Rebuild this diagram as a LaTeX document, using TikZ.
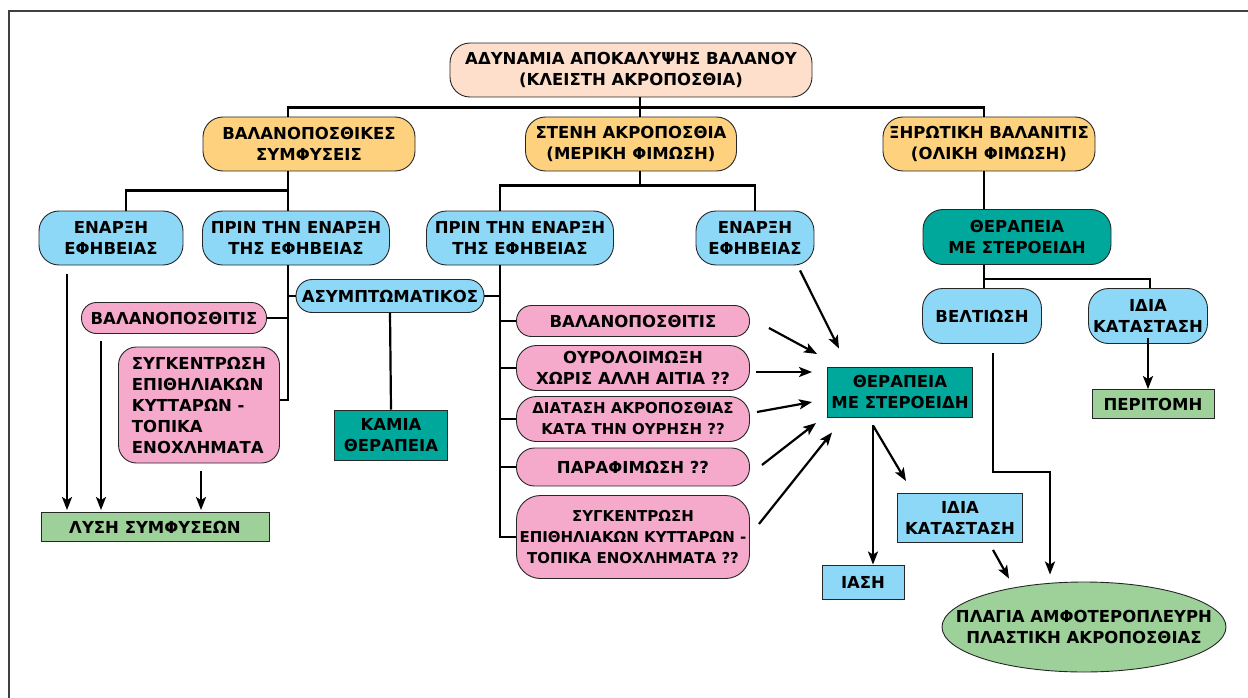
\documentclass[tikz,border=0pt]{standalone}
\usepackage{fontspec}
\setmainfont{DejaVu Sans}
\usetikzlibrary{arrows.meta, shapes.geometric}
\definecolor{rodakino}{HTML}{FDDFCB}
\definecolor{portokali}{HTML}{FDD17D}
\definecolor{galazio}{HTML}{8DD7F7}
\definecolor{roz}{HTML}{F5AACC}
\definecolor{petrol}{HTML}{00A89C}
\definecolor{prasino}{HTML}{9ED19A}
\tikzset{
  every node/.style={font=\fontsize{16.5}{21}\selectfont\bfseries, text=black, align=center, inner sep=2pt},
  stenos/.style={font=\fontsize{15}{21}\selectfont\bfseries, inner xsep=0pt},
  kouti/.style={draw=black!85, line width=0.9pt, rounded corners=#1, minimum height=54},
  kouti/.default=20,
  riza/.style={kouti, fill=rodakino},
  aitia/.style={kouti, fill=portokali},
  fasi/.style={kouti, fill=galazio},
  therap/.style={kouti, fill=petrol},
  klinik/.style={kouti=#1, fill=roz},
  klinik/.default=15,
  orthog/.style={draw=black!85, line width=0.9pt, minimum height=29},
  apotel/.style={orthog, fill=prasino},
  syndesi/.style={line width=2.2pt, black},
  velos/.style={-{Stealth[length=13pt, width=10pt, inset=3pt]}, line width=2.2pt, black},
  plaisio/.style={draw=black!75, line width=1.6pt},
}
\begin{document}
\begin{tikzpicture}[x=1pt, y=-1pt]
  \useasboundingbox (0,0) rectangle (1248,698);
  \draw[plaisio] (9,698) |- (1248,11);

  % kentriko
  \node[riza, minimum width=362] (top) at (631,70) {ΑΔΥΝΑΜΙΑ ΑΠΟΚΑΛΥΨΗΣ ΒΑΛΑΝΟΥ\\(ΚΛΕΙΣΤΗ ΑΚΡΟΠΟΣΘΙΑ)};
  \node[aitia, minimum width=212] (sym) at (309,144) {ΒΑΛΑΝΟΠΟΣΘΙΚΕΣ\\ΣΥΜΦΥΣΕΙΣ};
  \node[aitia, minimum width=211] (sten) at (631,144) {ΣΤΕΝΗ ΑΚΡΟΠΟΣΘΙΑ\\(ΜΕΡΙΚΗ ΦΙΜΩΣΗ)};
  \node[aitia, minimum width=212] (xir) at (989,144) {ΞΗΡΩΤΙΚΗ ΒΑΛΑΝΙΤΙΣ\\(ΟΛΙΚΗ ΦΙΜΩΣΗ)};

  % aristera
  \node[fasi, minimum width=144] (enl) at (111,238) {ΕΝΑΡΞΗ\\ΕΦΗΒΕΙΑΣ};
  \node[fasi, minimum width=187] (prl) at (296,238) {ΠΡΙΝ ΤΗΝ ΕΝΑΡΞΗ\\ΤΗΣ ΕΦΗΒΕΙΑΣ};
  \node[klinik, minimum width=185, minimum height=31] (pbl) at (174,318) {ΒΑΛΑΝΟΠΟΣΘΙΤΙΣ};
  \node[klinik=18, minimum width=161, minimum height=116, align=left] (psyl) at (199,405) {ΣΥΓΚΕΝΤΡΩΣΗ\\ΕΠΙΘΗΛΙΑΚΩΝ\\ΚΥΤΤΑΡΩΝ -\\ΤΟΠΙΚΑ\\ΕΝΟΧΛΗΜΑΤΑ};
  \node[apotel, minimum width=228] (lysi) at (155,527) {ΛΥΣΗ ΣΥΜΦΥΣΕΩΝ};
  \node[fasi, kouti=16, minimum width=188, minimum height=33] (asym) at (390,296) {ΑΣΥΜΠΤΩΜΑΤΙΚΟΣ};
  \node[orthog, fill=petrol, minimum width=113, minimum height=50] (kamia) at (391,435) {ΚΑΜΙΑ\\ΘΕΡΑΠΕΙΑ};

  % mesi
  \node[fasi, minimum width=187] (prm) at (520,238) {ΠΡΙΝ ΤΗΝ ΕΝΑΡΞΗ\\ΤΗΣ ΕΦΗΒΕΙΑΣ};
  \node[fasi, minimum width=118] (enm) at (755,238) {ΕΝΑΡΞΗ\\ΕΦΗΒΕΙΑΣ};
  \node[klinik, minimum width=233, minimum height=31] (pb1) at (633,321) {ΒΑΛΑΝΟΠΟΣΘΙΤΙΣ};
  \node[klinik=20, minimum width=233, minimum height=45] (pb2) at (633,368) {ΟΥΡΟΛΟΙΜΩΞΗ\\ΧΩΡΙΣ ΑΛΛΗ ΑΙΤΙΑ ??};
  \node[klinik=20, stenos, minimum width=233, minimum height=45] (pb3) at (633,419) {ΔΙΑΤΑΣΗ ΑΚΡΟΠΟΣΘΙΑΣ\\ΚΑΤΑ ΤΗΝ ΟΥΡΗΣΗ ??};
  \node[klinik=18, minimum width=233, minimum height=38] (pb4) at (633,467) {ΠΑΡΑΦΙΜΩΣΗ ??};
  \node[klinik=24, stenos, minimum width=233, minimum height=83] (pb5) at (633,537) {ΣΥΓΚΕΝΤΡΩΣΗ\\ΕΠΙΘΗΛΙΑΚΩΝ ΚΥΤΤΑΡΩΝ -\\ΤΟΠΙΚΑ ΕΝΟΧΛΗΜΑΤΑ ??};
  \node[orthog, fill=petrol, minimum width=145, minimum height=50] (therm) at (900,392) {ΘΕΡΑΠΕΙΑ\\ΜΕ ΣΤΕΡΟΕΙΔΗ};
  \node[orthog, fill=galazio, minimum width=82, minimum height=34] (iasi) at (863,582) {ΙΑΣΗ};
  \node[orthog, fill=galazio, minimum width=125, minimum height=49] (idm) at (960,518) {ΙΔΙΑ\\ΚΑΤΑΣΤΑΣΗ};

  % dexia
  \node[therap, minimum width=188, minimum height=55] (therr) at (1017,237) {ΘΕΡΑΠΕΙΑ\\ΜΕ ΣΤΕΡΟΕΙΔΗ};
  \node[fasi, minimum width=119, minimum height=55] (velt) at (982,316) {ΒΕΛΤΙΩΣΗ};
  \node[fasi, minimum width=119, minimum height=55] (idr) at (1148,316) {ΙΔΙΑ\\ΚΑΤΑΣΤΑΣΗ};
  \node[apotel, minimum width=122] (perit) at (1153,404) {ΠΕΡΙΤΟΜΗ};
  \node[ellipse, draw=black!85, line width=0.9pt, fill=prasino, minimum width=284, minimum height=90, inner xsep=-36pt, inner ysep=0pt] (plag) at (1084,627) {ΠΛΑΓΙΑ ΑΜΦΟΤΕΡΟΠΛΕΥΡΗ\\ΠΛΑΣΤΙΚΗ ΑΚΡΟΠΟΣΘΙΑΣ};

  % dentro
  \draw[syndesi] ([xshift=9]top.south) -- ([xshift=9]sten.north);
  \draw[syndesi] ([xshift=-21]sym.north) -- ++(0,-9) -| ([xshift=-5]xir.north);
  \draw[syndesi] ([xshift=-21]sym.south) -- ([xshift=-8]prl.north);
  \draw[syndesi] ([xshift=-21]sym.south) ++(0,19) -| ([xshift=15]enl.north);
  \draw[syndesi] ([xshift=9]sten.south) -- ++(0,15);
  \draw[syndesi] ([xshift=-20]prm.north) -- ++(0,-25) -| (enm.north);
  \draw[syndesi] ([xshift=-5]xir.south) -- ([xshift=-33]therr.north);
  \draw[syndesi] ([xshift=-33]therr.south) -- ([xshift=2]velt.north);
  \draw[syndesi] ([xshift=-33]therr.south) ++(0,14) -| ([xshift=2]idr.north);

  \draw[syndesi] ([xshift=-8]prl.south) |- ([yshift=5]psyl.east);
  \draw[syndesi] (pbl.east) -| ([xshift=-8]prl.south);
  \draw[syndesi] (asym.west) -| ([xshift=-8]prl.south);
  \draw[syndesi] (asym.east) -| ([xshift=-20]prm.south);
  \draw[syndesi] (asym.south) -- (kamia.north);
  \draw[syndesi] ([xshift=-20]prm.south) |- (pb5.west);
  \foreach \n in {pb1,pb2,pb3,pb4}
    \draw[syndesi] (\n.west) -| ([xshift=-20]prm.south);

  % velh
  \draw[velos] ([shift={(-44,9)}]enl.south) -- ([shift={(-88,-2)}]lysi.north);
  \draw[velos] ([shift={(-73,7)}]pbl.south) -- ([shift={(-54,-2)}]lysi.north);
  \draw[velos] ([shift={(2,8)}]psyl.south) -- ([shift={(46,-2)}]lysi.north);

  \draw[velos] ([shift={(19,7)}]pb1.east) -- ([shift={(-10,-38)}]therm.west);
  \draw[velos] ([shift={(6,4)}]pb2.east) -- ([shift={(-15,-20)}]therm.west);
  \draw[velos] ([shift={(7,-7)}]pb3.east) -- ([shift={(-15,10)}]therm.west);
  \draw[velos] ([shift={(12,-2)}]pb4.east) -- ([shift={(-11,31)}]therm.west);
  \draw[velos] ([shift={(9,-13)}]pb5.east) -- ([shift={(5,15)}]therm.south west);
  \draw[velos] ([shift={(45,5)}]enm.south) -- ([shift={(-61,-18)}]therm.north);
  \draw[velos] ([shift={(-27,8)}]therm.south) -- ([xshift=10]iasi.north);
  \draw[velos] ([shift={(-27,8)}]therm.south) -- ([shift={(-54,-12)}]idm.north);
  \draw[velos] ([shift={(33,7)}]idm.south) -- ([shift={(-75,-3)}]plag.north);

  \draw[velos] ([yshift=6]idr.south) -- (idr.south |- perit.north);
  \draw[velos] ([shift={(11,9)}]velt.south) -- ++(0,119) -| ([shift={(-34,-7)}]plag.north);
\end{tikzpicture}
\end{document}
